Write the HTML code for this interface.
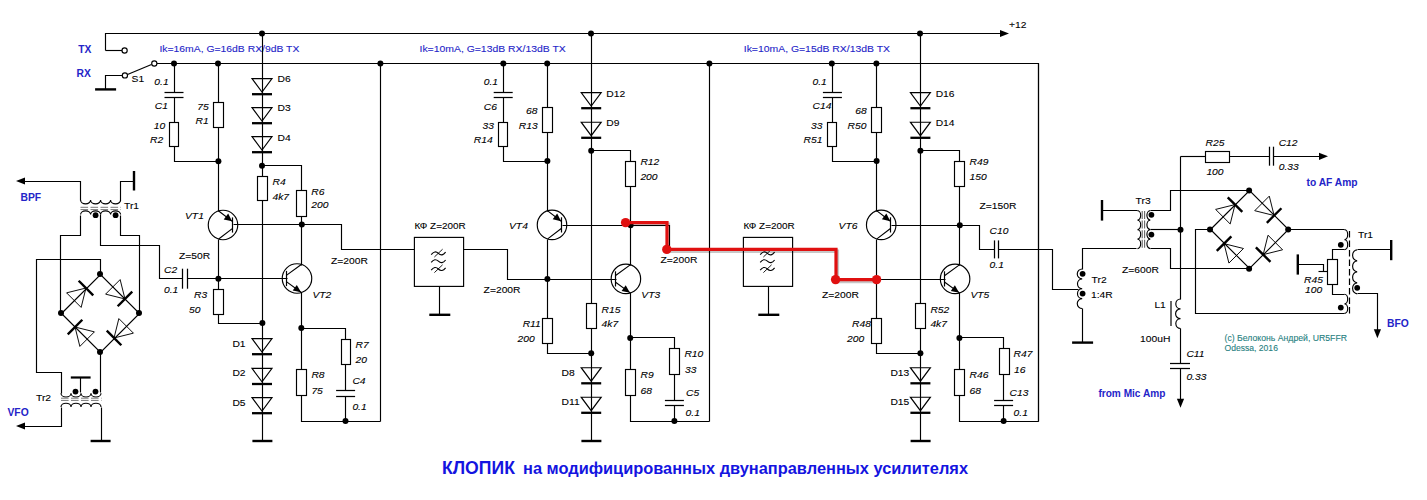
<!DOCTYPE html>
<html><head><meta charset="utf-8"><style>
html,body{margin:0;padding:0;background:#fff;}
svg{display:block;}
text{font-family:"Liberation Sans",sans-serif;}
</style></head><body>
<svg width="1427" height="500" viewBox="0 0 1427 500">
<rect width="1427" height="500" fill="#fff"/>
<g stroke="#000" stroke-width="1.15" fill="none" font-family="Liberation Sans, sans-serif">
<path d="M105.50 50.50 L105.50 33.50 L1001.50 33.50"/>
<path d="M1009.00 33.50 L1000.00 36.90 L1000.00 30.10 Z" fill="#000" stroke="none"/>
<path d="M105.50 50.50 L122.50 50.50"/>
<circle cx="124.60" cy="50.50" r="2.6" fill="#fff"/>
<path d="M156.50 63.50 L1038.50 63.50 L1038.50 421.50"/>
<circle cx="154.30" cy="63.50" r="2.6" fill="#fff"/>
<path d="M127.50 74.50 L151.50 64.50"/>
<path d="M122.50 75.50 L105.50 75.50 L105.50 89.50"/>
<circle cx="124.90" cy="75.40" r="2.6" fill="#fff"/>
<path d="M95.10 89.40 L116.10 89.40" stroke-width="2.4"/>
<circle cx="262.00" cy="33.50" r="3.0" fill="#000" stroke="none"/>
<circle cx="591.00" cy="33.50" r="3.0" fill="#000" stroke="none"/>
<circle cx="920.00" cy="33.50" r="3.0" fill="#000" stroke="none"/>
<circle cx="174.00" cy="63.50" r="3.0" fill="#000" stroke="none"/>
<circle cx="218.00" cy="63.50" r="3.0" fill="#000" stroke="none"/>
<circle cx="380.40" cy="63.50" r="3.0" fill="#000" stroke="none"/>
<circle cx="503.30" cy="63.50" r="3.0" fill="#000" stroke="none"/>
<circle cx="547.20" cy="63.50" r="3.0" fill="#000" stroke="none"/>
<circle cx="709.40" cy="63.50" r="3.0" fill="#000" stroke="none"/>
<circle cx="831.80" cy="63.50" r="3.0" fill="#000" stroke="none"/>
<circle cx="876.40" cy="63.50" r="3.0" fill="#000" stroke="none"/>
<text stroke="#2424c8" stroke-width="0.1" x="159.40" y="52.21" font-size="9.5" fill="#2424c8" textLength="140" lengthAdjust="spacingAndGlyphs">Ik=16mA, G=16dB RX/9dB TX</text>
<text stroke="#2424c8" stroke-width="0.1" x="419.50" y="52.21" font-size="9.5" fill="#2424c8" textLength="146.3" lengthAdjust="spacingAndGlyphs">Ik=10mA, G=13dB RX/13dB TX</text>
<text stroke="#2424c8" stroke-width="0.1" x="743.75" y="52.21" font-size="9.5" fill="#2424c8" textLength="146.3" lengthAdjust="spacingAndGlyphs">Ik=10mA, G=15dB RX/13dB TX</text>
<text stroke="none" x="78.20" y="52.55" font-size="10.3" font-weight="bold" fill="#2424c8">TX</text>
<text stroke="none" x="76.50" y="77.45" font-size="10.3" font-weight="bold" fill="#2424c8">RX</text>
<text stroke="#000" stroke-width="0.1" x="131.60" y="81.66" font-size="9.5" fill="#000" textLength="12.6" lengthAdjust="spacingAndGlyphs">S1</text>
<text stroke="#000" stroke-width="0.1" x="1009.00" y="27.96" font-size="9.5" fill="#000" textLength="17.47" lengthAdjust="spacingAndGlyphs">+12</text>
<path d="M174.50 63.50 L174.50 92.50"/>
<path d="M174.50 97.50 L174.50 122.50"/>
<path d="M164.50 92.50 L183.50 92.50" stroke-width="1.25"/>
<path d="M164.50 97.50 L183.50 97.50" stroke-width="1.25"/>
<path d="M174.50 146.50 L174.50 161.50 L218.50 161.50"/>
<rect x="169.50" y="122.50" width="9" height="24" fill="#fff"/>
<path d="M218.50 63.50 L218.50 63.50 L218.50 211.50"/>
<rect x="213.50" y="102.50" width="10" height="25" fill="#fff"/>
<circle cx="218.40" cy="161.30" r="3.0" fill="#000" stroke="none"/>
<path d="M262.50 33.50 L262.50 441.50"/>
<path d="M252.00 78.60 L272.00 78.60 L262.00 92.10 Z"/>
<path d="M252.00 94.20 L272.00 94.20" stroke-width="2.3"/>
<path d="M252.00 107.60 L272.00 107.60 L262.00 121.10 Z"/>
<path d="M252.00 123.20 L272.00 123.20" stroke-width="2.3"/>
<path d="M252.00 136.60 L272.00 136.60 L262.00 150.10 Z"/>
<path d="M252.00 152.20 L272.00 152.20" stroke-width="2.3"/>
<circle cx="262.00" cy="165.80" r="3.0" fill="#000" stroke="none"/>
<path d="M262.50 165.50 L301.50 165.50 L301.50 265.50"/>
<rect x="257.50" y="176.50" width="10" height="24" fill="#fff"/>
<rect x="296.50" y="190.50" width="10" height="26" fill="#fff"/>
<circle cx="301.80" cy="224.60" r="3.0" fill="#000" stroke="none"/>
<path d="M252.00 338.60 L272.00 338.60 L262.00 352.10 Z"/>
<path d="M252.00 354.20 L272.00 354.20" stroke-width="2.3"/>
<path d="M252.00 368.40 L272.00 368.40 L262.00 381.90 Z"/>
<path d="M252.00 384.00 L272.00 384.00" stroke-width="2.3"/>
<path d="M252.00 397.60 L272.00 397.60 L262.00 411.10 Z"/>
<path d="M252.00 413.20 L272.00 413.20" stroke-width="2.3"/>
<path d="M252.40 441.00 L272.40 441.00" stroke-width="2.4"/>
<circle cx="223.00" cy="225.00" r="14.75" fill="none"/>
<path d="M232.50 217.40 L232.50 232.60" stroke-width="1.2"/>
<path d="M218.70 211.00 L232.60 221.60 M232.60 228.40 L218.70 239.00"/>
<path d="M232.12 221.24 L223.68 219.45 L228.16 213.56 Z" fill="#000" stroke="none"/>
<path d="M233.50 224.50 L341.50 224.50 L341.50 249.50 L414.50 249.50"/>
<path d="M218.50 239.50 L218.50 323.50 L262.50 323.50"/>
<rect x="213.50" y="289.50" width="10" height="25" fill="#fff"/>
<circle cx="218.40" cy="278.70" r="3.0" fill="#000" stroke="none"/>
<circle cx="262.40" cy="323.00" r="3.0" fill="#000" stroke="none"/>
<path d="M100.50 214.50 L100.50 245.50 L159.50 245.50 L159.50 278.50 L182.50 278.50"/>
<path d="M182.50 268.70 L182.50 288.70" stroke-width="1.25"/>
<path d="M187.50 268.70 L187.50 288.70" stroke-width="1.25"/>
<path d="M187.50 278.50 L287.50 278.50"/>
<circle cx="297.00" cy="278.50" r="14.75" fill="none"/>
<path d="M286.50 270.90 L286.50 286.10" stroke-width="1.2"/>
<path d="M301.30 264.50 L286.70 275.10 M286.70 281.90 L301.30 292.50"/>
<path d="M301.06 292.32 L292.69 290.57 L296.80 284.91 Z" fill="#000" stroke="none"/>
<circle cx="301.30" cy="328.00" r="3.0" fill="#000" stroke="none"/>
<path d="M301.50 292.50 L301.50 421.50 L380.50 421.50"/>
<path d="M380.50 63.50 L380.50 421.50"/>
<path d="M301.50 328.50 L345.50 328.50 L345.50 390.50"/>
<rect x="341.50" y="339.50" width="9" height="25" fill="#fff"/>
<rect x="296.50" y="369.50" width="10" height="26" fill="#fff"/>
<path d="M336.10 390.50 L355.10 390.50" stroke-width="1.25"/>
<path d="M336.10 396.50 L355.10 396.50" stroke-width="1.25"/>
<path d="M345.50 396.50 L345.50 421.50"/>
<circle cx="345.50" cy="421.00" r="3.0" fill="#000" stroke="none"/>
<text stroke="#000" stroke-width="0.1" x="154.30" y="85.06" font-size="9.5" font-style="italic" fill="#000" textLength="14.32" lengthAdjust="spacingAndGlyphs">0.1</text>
<text stroke="#000" stroke-width="0.1" x="154.80" y="109.46" font-size="9.5" font-style="italic" fill="#000" textLength="13.17" lengthAdjust="spacingAndGlyphs">C1</text>
<text stroke="#000" stroke-width="0.1" x="153.70" y="129.06" font-size="9.5" font-style="italic" fill="#000" textLength="11.46" lengthAdjust="spacingAndGlyphs">10</text>
<text stroke="#000" stroke-width="0.1" x="150.00" y="143.46" font-size="9.5" font-style="italic" fill="#000" textLength="13.17" lengthAdjust="spacingAndGlyphs">R2</text>
<text stroke="#000" stroke-width="0.1" x="197.20" y="109.86" font-size="9.5" font-style="italic" fill="#000" textLength="11.46" lengthAdjust="spacingAndGlyphs">75</text>
<text stroke="#000" stroke-width="0.1" x="195.60" y="124.26" font-size="9.5" font-style="italic" fill="#000" textLength="13.17" lengthAdjust="spacingAndGlyphs">R1</text>
<text stroke="#000" stroke-width="0.1" x="277.50" y="82.21" font-size="9.5" fill="#000" textLength="13.17" lengthAdjust="spacingAndGlyphs">D6</text>
<text stroke="#000" stroke-width="0.1" x="277.50" y="111.46" font-size="9.5" fill="#000" textLength="13.17" lengthAdjust="spacingAndGlyphs">D3</text>
<text stroke="#000" stroke-width="0.1" x="277.50" y="140.96" font-size="9.5" fill="#000" textLength="13.17" lengthAdjust="spacingAndGlyphs">D4</text>
<text stroke="#000" stroke-width="0.1" x="272.50" y="185.21" font-size="9.5" font-style="italic" fill="#000" textLength="13.17" lengthAdjust="spacingAndGlyphs">R4</text>
<text stroke="#000" stroke-width="0.1" x="272.50" y="199.71" font-size="9.5" font-style="italic" fill="#000" textLength="16.61" lengthAdjust="spacingAndGlyphs">4k7</text>
<text stroke="#000" stroke-width="0.1" x="311.25" y="194.71" font-size="9.5" font-style="italic" fill="#000" textLength="13.17" lengthAdjust="spacingAndGlyphs">R6</text>
<text stroke="#000" stroke-width="0.1" x="311.25" y="208.46" font-size="9.5" font-style="italic" fill="#000" textLength="17.18" lengthAdjust="spacingAndGlyphs">200</text>
<text stroke="#000" stroke-width="0.1" x="185.00" y="218.96" font-size="9.5" font-style="italic" fill="#000" textLength="18.89" lengthAdjust="spacingAndGlyphs">VT1</text>
<text stroke="#000" stroke-width="0.1" x="179.00" y="259.46" font-size="9.5" fill="#000" textLength="31.2" lengthAdjust="spacingAndGlyphs">Z=50R</text>
<text stroke="#000" stroke-width="0.1" x="164.00" y="273.46" font-size="9.5" font-style="italic" fill="#000" textLength="13.17" lengthAdjust="spacingAndGlyphs">C2</text>
<text stroke="#000" stroke-width="0.1" x="164.00" y="293.46" font-size="9.5" font-style="italic" fill="#000" textLength="14.32" lengthAdjust="spacingAndGlyphs">0.1</text>
<text stroke="#000" stroke-width="0.1" x="194.00" y="297.96" font-size="9.5" font-style="italic" fill="#000" textLength="13.17" lengthAdjust="spacingAndGlyphs">R3</text>
<text stroke="#000" stroke-width="0.1" x="189.00" y="313.46" font-size="9.5" font-style="italic" fill="#000" textLength="11.46" lengthAdjust="spacingAndGlyphs">50</text>
<text stroke="#000" stroke-width="0.1" x="312.40" y="298.46" font-size="9.5" font-style="italic" fill="#000" textLength="18.89" lengthAdjust="spacingAndGlyphs">VT2</text>
<text stroke="#000" stroke-width="0.1" x="331.00" y="264.06" font-size="9.5" fill="#000" textLength="36.93" lengthAdjust="spacingAndGlyphs">Z=200R</text>
<text stroke="#000" stroke-width="0.1" x="232.40" y="347.46" font-size="9.5" fill="#000" textLength="13.17" lengthAdjust="spacingAndGlyphs">D1</text>
<text stroke="#000" stroke-width="0.1" x="232.40" y="376.46" font-size="9.5" fill="#000" textLength="13.17" lengthAdjust="spacingAndGlyphs">D2</text>
<text stroke="#000" stroke-width="0.1" x="232.40" y="405.86" font-size="9.5" fill="#000" textLength="13.17" lengthAdjust="spacingAndGlyphs">D5</text>
<text stroke="#000" stroke-width="0.1" x="355.60" y="348.46" font-size="9.5" font-style="italic" fill="#000" textLength="13.17" lengthAdjust="spacingAndGlyphs">R7</text>
<text stroke="#000" stroke-width="0.1" x="355.60" y="363.46" font-size="9.5" font-style="italic" fill="#000" textLength="11.46" lengthAdjust="spacingAndGlyphs">20</text>
<text stroke="#000" stroke-width="0.1" x="311.40" y="378.46" font-size="9.5" font-style="italic" fill="#000" textLength="13.17" lengthAdjust="spacingAndGlyphs">R8</text>
<text stroke="#000" stroke-width="0.1" x="311.40" y="394.46" font-size="9.5" font-style="italic" fill="#000" textLength="11.46" lengthAdjust="spacingAndGlyphs">75</text>
<text stroke="#000" stroke-width="0.1" x="352.40" y="384.46" font-size="9.5" font-style="italic" fill="#000" textLength="13.17" lengthAdjust="spacingAndGlyphs">C4</text>
<text stroke="#000" stroke-width="0.1" x="352.40" y="410.46" font-size="9.5" font-style="italic" fill="#000" textLength="14.32" lengthAdjust="spacingAndGlyphs">0.1</text>
<path d="M16.00 181.00 L25.00 177.40 L25.00 184.60 Z" fill="#000" stroke="none"/>
<path d="M24.50 181.50 L80.50 181.50 L80.50 200.50"/>
<path d="M80.60 200.00 A5.00 3.80 0 0 0 90.60 200.00 A5.00 3.80 0 0 0 100.60 200.00 A5.00 3.80 0 0 0 110.60 200.00 A5.00 3.80 0 0 0 120.60 200.00" fill="none"/>
<path d="M120.50 200.50 L120.50 181.50 L134.50 181.50"/>
<path d="M134.00 171.00 L134.00 190.50" stroke-width="2.4"/>
<path d="M80.5 207.3 L121 207.3 M80.5 209.6 L121 209.6" stroke="#777" stroke-width="1.0" stroke-dasharray="7.6 2.4"/>
<path d="M80.60 214.60 A5.00 3.80 0 0 1 90.60 214.60 A5.00 3.80 0 0 1 100.60 214.60 A5.00 3.80 0 0 1 110.60 214.60 A5.00 3.80 0 0 1 120.60 214.60" fill="none"/>
<circle cx="95.60" cy="215.20" r="2.9" fill="#000" stroke="none"/>
<circle cx="115.60" cy="215.20" r="2.9" fill="#000" stroke="none"/>
<path d="M80.50 215.50 L80.50 235.50 L60.50 235.50 L60.50 312.50"/>
<path d="M120.50 215.50 L120.50 235.50 L139.50 235.50 L139.50 312.50"/>
<path d="M61.50 313.50 L100.50 274.50 L139.50 313.50 L100.50 352.50 L61.50 313.50"/>
<path d="M81.15 307.41 L66.59 292.85 L85.96 288.04 Z" stroke-width="0.95"/>
<path d="M93.24 295.32 L78.68 280.76" stroke-width="2.4"/>
<path d="M105.59 294.15 L120.15 279.59 L124.96 298.96 Z" stroke-width="0.95"/>
<path d="M117.68 306.24 L132.24 291.68" stroke-width="2.4"/>
<path d="M118.85 318.59 L133.41 333.15 L114.04 337.96 Z" stroke-width="0.95"/>
<path d="M106.76 330.68 L121.32 345.24" stroke-width="2.4"/>
<path d="M94.41 331.85 L79.85 346.41 L75.04 327.04 Z" stroke-width="0.95"/>
<path d="M82.32 319.76 L67.76 334.32" stroke-width="2.4"/>
<circle cx="100.00" cy="274.00" r="3.0" fill="#000" stroke="none"/>
<circle cx="61.00" cy="313.00" r="3.0" fill="#000" stroke="none"/>
<circle cx="139.00" cy="313.00" r="3.0" fill="#000" stroke="none"/>
<circle cx="100.00" cy="352.00" r="3.0" fill="#000" stroke="none"/>
<path d="M100.50 274.50 L100.50 259.50 L36.50 259.50 L36.50 372.50 L61.50 372.50 L61.50 393.50"/>
<path d="M100.50 352.50 L100.50 392.50"/>
<path d="M61.00 393.20 A5.00 3.80 0 0 0 71.00 393.20 A5.00 3.80 0 0 0 81.00 393.20 A5.00 3.80 0 0 0 91.00 393.20 A5.00 3.80 0 0 0 101.00 393.20" fill="none"/>
<circle cx="75.50" cy="391.60" r="2.9" fill="#000" stroke="none"/>
<circle cx="95.50" cy="391.60" r="2.9" fill="#000" stroke="none"/>
<path d="M80.50 392.50 L80.50 377.50"/>
<path d="M70.80 377.50 L90.60 377.50" stroke-width="2.2"/>
<path d="M61 398.2 L101.5 398.2 M61 400.4 L101.5 400.4" stroke="#777" stroke-width="1.0" stroke-dasharray="7.6 2.4"/>
<path d="M61.00 407.00 A5.00 3.80 0 0 1 71.00 407.00 A5.00 3.80 0 0 1 81.00 407.00 A5.00 3.80 0 0 1 91.00 407.00 A5.00 3.80 0 0 1 101.00 407.00" fill="none"/>
<path d="M61.50 407.50 L61.50 426.50 L24.50 426.50"/>
<path d="M16.00 426.00 L25.00 422.40 L25.00 429.60 Z" fill="#000" stroke="none"/>
<path d="M101.50 407.50 L101.50 441.50"/>
<path d="M90.60 441.00 L110.60 441.00" stroke-width="2.4"/>
<text stroke="#000" stroke-width="0.1" x="124.00" y="208.96" font-size="9.5" fill="#000" textLength="15.07" lengthAdjust="spacingAndGlyphs">Tr1</text>
<text stroke="#000" stroke-width="0.1" x="36.00" y="400.96" font-size="9.5" fill="#000" textLength="15.07" lengthAdjust="spacingAndGlyphs">Tr2</text>
<text stroke="none" x="20.50" y="200.50" font-size="10.3" font-weight="bold" fill="#2424c8">BPF</text>
<text stroke="none" x="7.50" y="416.25" font-size="10.3" font-weight="bold" fill="#2424c8">VFO</text>
<rect x="414.40" y="237.4" width="49.2" height="49" fill="#fff"/>
<path d="M439.50 286.50 L439.50 314.50"/>
<path d="M429.30 314.80 L450.30 314.80" stroke-width="2.4"/>
<path d="M431.20 254.60 Q434.80 249.90 438.40 253.40 T445.60 252.20" fill="none"/>
<path d="M434.40 257.00 L442.60 249.20" stroke-width="0.9"/>
<path d="M431.20 262.40 Q434.80 257.70 438.40 261.20 T445.60 260.00" fill="none"/>
<path d="M431.20 270.20 Q434.80 265.50 438.40 269.00 T445.60 267.80" fill="none"/>
<path d="M434.40 272.60 L442.60 264.80" stroke-width="0.9"/>
<text stroke="#000" stroke-width="0.1" x="414.40" y="229.06" font-size="9.5" fill="#000" textLength="51.2" lengthAdjust="spacingAndGlyphs">КФ Z=200R</text>
<rect x="743.40" y="237.4" width="49.2" height="49" fill="#fff"/>
<path d="M768.50 286.50 L768.50 314.50"/>
<path d="M758.30 314.80 L779.30 314.80" stroke-width="2.4"/>
<path d="M760.20 254.60 Q763.80 249.90 767.40 253.40 T774.60 252.20" fill="none"/>
<path d="M763.40 257.00 L771.60 249.20" stroke-width="0.9"/>
<path d="M760.20 262.40 Q763.80 257.70 767.40 261.20 T774.60 260.00" fill="none"/>
<path d="M760.20 270.20 Q763.80 265.50 767.40 269.00 T774.60 267.80" fill="none"/>
<path d="M763.40 272.60 L771.60 264.80" stroke-width="0.9"/>
<text stroke="#000" stroke-width="0.1" x="743.40" y="229.06" font-size="9.5" fill="#000" textLength="51.2" lengthAdjust="spacingAndGlyphs">КФ Z=200R</text>
<path d="M463.50 249.50 L507.50 249.50 L507.50 279.50 L616.50 279.50"/>
<text stroke="#000" stroke-width="0.1" x="483.60" y="293.46" font-size="9.5" fill="#000" textLength="36.93" lengthAdjust="spacingAndGlyphs">Z=200R</text>
<path d="M503.50 63.50 L503.50 92.50"/>
<path d="M503.50 97.50 L503.50 122.50"/>
<path d="M493.70 92.50 L512.70 92.50" stroke-width="1.25"/>
<path d="M493.70 97.50 L512.70 97.50" stroke-width="1.25"/>
<rect x="498.50" y="122.50" width="9" height="24" fill="#fff"/>
<path d="M503.50 146.50 L503.50 161.50 L547.50 161.50"/>
<path d="M547.50 63.50 L547.50 211.50"/>
<rect x="542.50" y="107.50" width="10" height="25" fill="#fff"/>
<circle cx="547.40" cy="161.00" r="3.0" fill="#000" stroke="none"/>
<path d="M591.50 33.50 L591.50 441.50"/>
<path d="M581.20 92.60 L601.20 92.60 L591.20 106.10 Z"/>
<path d="M581.20 108.20 L601.20 108.20" stroke-width="2.3"/>
<path d="M581.20 122.20 L601.20 122.20 L591.20 135.70 Z"/>
<path d="M581.20 137.80 L601.20 137.80" stroke-width="2.3"/>
<circle cx="591.20" cy="150.70" r="3.0" fill="#000" stroke="none"/>
<path d="M591.50 150.50 L630.50 150.50 L630.50 265.50"/>
<rect x="625.50" y="161.50" width="10" height="25" fill="#fff"/>
<circle cx="630.60" cy="225.20" r="3.0" fill="#000" stroke="none"/>
<circle cx="552.00" cy="224.90" r="14.75" fill="none"/>
<path d="M561.50 217.30 L561.50 232.50" stroke-width="1.2"/>
<path d="M547.70 210.90 L561.60 221.50 M561.60 228.30 L547.70 238.90"/>
<path d="M561.12 221.14 L552.68 219.35 L557.16 213.46 Z" fill="#000" stroke="none"/>
<path d="M562.50 225.50 L630.50 225.50"/>
<path d="M547.50 239.50 L547.50 353.50 L591.50 353.50"/>
<rect x="542.50" y="318.50" width="10" height="25" fill="#fff"/>
<circle cx="547.40" cy="279.00" r="3.0" fill="#000" stroke="none"/>
<circle cx="591.20" cy="353.20" r="3.0" fill="#000" stroke="none"/>
<rect x="586.50" y="303.50" width="10" height="25" fill="#fff"/>
<circle cx="625.90" cy="278.90" r="14.75" fill="none"/>
<path d="M615.50 271.30 L615.50 286.50" stroke-width="1.2"/>
<path d="M630.20 264.90 L615.60 275.50 M615.60 282.30 L630.20 292.90"/>
<path d="M629.96 292.72 L621.59 290.97 L625.70 285.31 Z" fill="#000" stroke="none"/>
<path d="M630.50 292.50 L630.50 421.50 L709.50 421.50"/>
<path d="M709.50 63.50 L709.50 421.50"/>
<circle cx="630.20" cy="337.90" r="3.0" fill="#000" stroke="none"/>
<path d="M630.50 337.50 L674.50 337.50 L674.50 400.50"/>
<rect x="669.50" y="348.50" width="10" height="26" fill="#fff"/>
<rect x="625.50" y="369.50" width="10" height="26" fill="#fff"/>
<path d="M664.90 400.50 L683.90 400.50" stroke-width="1.25"/>
<path d="M664.90 405.50 L683.90 405.50" stroke-width="1.25"/>
<path d="M674.50 405.50 L674.50 421.50"/>
<circle cx="674.40" cy="421.00" r="3.0" fill="#000" stroke="none"/>
<path d="M581.20 367.70 L601.20 367.70 L591.20 381.20 Z"/>
<path d="M581.20 383.30 L601.20 383.30" stroke-width="2.3"/>
<path d="M581.20 397.20 L601.20 397.20 L591.20 410.70 Z"/>
<path d="M581.20 412.80 L601.20 412.80" stroke-width="2.3"/>
<path d="M581.40 441.00 L601.40 441.00" stroke-width="2.4"/>
<text stroke="#000" stroke-width="0.1" x="483.75" y="84.71" font-size="9.5" font-style="italic" fill="#000" textLength="14.32" lengthAdjust="spacingAndGlyphs">0.1</text>
<text stroke="#000" stroke-width="0.1" x="483.75" y="109.71" font-size="9.5" font-style="italic" fill="#000" textLength="13.17" lengthAdjust="spacingAndGlyphs">C6</text>
<text stroke="#000" stroke-width="0.1" x="482.50" y="129.46" font-size="9.5" font-style="italic" fill="#000" textLength="11.46" lengthAdjust="spacingAndGlyphs">33</text>
<text stroke="#000" stroke-width="0.1" x="473.75" y="142.96" font-size="9.5" font-style="italic" fill="#000" textLength="18.89" lengthAdjust="spacingAndGlyphs">R14</text>
<text stroke="#000" stroke-width="0.1" x="526.00" y="114.46" font-size="9.5" font-style="italic" fill="#000" textLength="11.46" lengthAdjust="spacingAndGlyphs">68</text>
<text stroke="#000" stroke-width="0.1" x="518.75" y="129.46" font-size="9.5" font-style="italic" fill="#000" textLength="18.89" lengthAdjust="spacingAndGlyphs">R13</text>
<text stroke="#000" stroke-width="0.1" x="606.30" y="97.21" font-size="9.5" fill="#000" textLength="18.89" lengthAdjust="spacingAndGlyphs">D12</text>
<text stroke="#000" stroke-width="0.1" x="606.30" y="125.96" font-size="9.5" fill="#000" textLength="13.17" lengthAdjust="spacingAndGlyphs">D9</text>
<text stroke="#000" stroke-width="0.1" x="640.40" y="165.06" font-size="9.5" font-style="italic" fill="#000" textLength="18.89" lengthAdjust="spacingAndGlyphs">R12</text>
<text stroke="#000" stroke-width="0.1" x="640.40" y="180.46" font-size="9.5" font-style="italic" fill="#000" textLength="17.18" lengthAdjust="spacingAndGlyphs">200</text>
<text stroke="#000" stroke-width="0.1" x="509.00" y="229.06" font-size="9.5" font-style="italic" fill="#000" textLength="18.89" lengthAdjust="spacingAndGlyphs">VT4</text>
<text stroke="#000" stroke-width="0.1" x="641.30" y="298.06" font-size="9.5" font-style="italic" fill="#000" textLength="18.89" lengthAdjust="spacingAndGlyphs">VT3</text>
<text stroke="#000" stroke-width="0.1" x="522.70" y="326.96" font-size="9.5" font-style="italic" fill="#000" textLength="18.13" lengthAdjust="spacingAndGlyphs">R11</text>
<text stroke="#000" stroke-width="0.1" x="517.60" y="342.06" font-size="9.5" font-style="italic" fill="#000" textLength="17.18" lengthAdjust="spacingAndGlyphs">200</text>
<text stroke="#000" stroke-width="0.1" x="601.60" y="313.06" font-size="9.5" font-style="italic" fill="#000" textLength="18.89" lengthAdjust="spacingAndGlyphs">R15</text>
<text stroke="#000" stroke-width="0.1" x="601.60" y="326.96" font-size="9.5" font-style="italic" fill="#000" textLength="16.61" lengthAdjust="spacingAndGlyphs">4k7</text>
<text stroke="#000" stroke-width="0.1" x="684.40" y="357.46" font-size="9.5" font-style="italic" fill="#000" textLength="18.89" lengthAdjust="spacingAndGlyphs">R10</text>
<text stroke="#000" stroke-width="0.1" x="685.00" y="373.06" font-size="9.5" font-style="italic" fill="#000" textLength="11.46" lengthAdjust="spacingAndGlyphs">33</text>
<text stroke="#000" stroke-width="0.1" x="640.60" y="378.46" font-size="9.5" font-style="italic" fill="#000" textLength="13.17" lengthAdjust="spacingAndGlyphs">R9</text>
<text stroke="#000" stroke-width="0.1" x="640.60" y="394.46" font-size="9.5" font-style="italic" fill="#000" textLength="11.46" lengthAdjust="spacingAndGlyphs">68</text>
<text stroke="#000" stroke-width="0.1" x="686.00" y="396.46" font-size="9.5" font-style="italic" fill="#000" textLength="13.17" lengthAdjust="spacingAndGlyphs">C5</text>
<text stroke="#000" stroke-width="0.1" x="685.60" y="416.46" font-size="9.5" font-style="italic" fill="#000" textLength="14.32" lengthAdjust="spacingAndGlyphs">0.1</text>
<text stroke="#000" stroke-width="0.1" x="561.60" y="376.46" font-size="9.5" fill="#000" textLength="13.17" lengthAdjust="spacingAndGlyphs">D8</text>
<text stroke="#000" stroke-width="0.1" x="561.60" y="405.46" font-size="9.5" fill="#000" textLength="18.13" lengthAdjust="spacingAndGlyphs">D11</text>
<path d="M832.50 63.50 L832.50 92.50"/>
<path d="M832.50 97.50 L832.50 122.50"/>
<path d="M822.90 92.50 L841.90 92.50" stroke-width="1.25"/>
<path d="M822.90 97.50 L841.90 97.50" stroke-width="1.25"/>
<rect x="827.50" y="122.50" width="9" height="24" fill="#fff"/>
<path d="M832.50 146.50 L832.50 161.50 L876.50 161.50"/>
<path d="M876.50 63.50 L876.50 211.50"/>
<rect x="871.50" y="107.50" width="10" height="25" fill="#fff"/>
<circle cx="876.60" cy="161.00" r="3.0" fill="#000" stroke="none"/>
<path d="M920.50 33.50 L920.50 441.50"/>
<path d="M910.40 92.60 L930.40 92.60 L920.40 106.10 Z"/>
<path d="M910.40 108.20 L930.40 108.20" stroke-width="2.3"/>
<path d="M910.40 122.20 L930.40 122.20 L920.40 135.70 Z"/>
<path d="M910.40 137.80 L930.40 137.80" stroke-width="2.3"/>
<circle cx="920.40" cy="150.70" r="3.0" fill="#000" stroke="none"/>
<path d="M920.50 150.50 L959.50 150.50 L959.50 265.50"/>
<rect x="954.50" y="161.50" width="10" height="25" fill="#fff"/>
<circle cx="959.80" cy="225.20" r="3.0" fill="#000" stroke="none"/>
<circle cx="881.20" cy="224.90" r="14.75" fill="none"/>
<path d="M890.50 217.30 L890.50 232.50" stroke-width="1.2"/>
<path d="M876.90 210.90 L890.80 221.50 M890.80 228.30 L876.90 238.90"/>
<path d="M890.32 221.14 L881.88 219.35 L886.36 213.46 Z" fill="#000" stroke="none"/>
<path d="M891.50 225.50 L959.50 225.50"/>
<path d="M876.50 239.50 L876.50 353.50 L920.50 353.50"/>
<rect x="871.50" y="318.50" width="10" height="25" fill="#fff"/>
<circle cx="876.60" cy="279.00" r="3.0" fill="#000" stroke="none"/>
<circle cx="920.40" cy="353.20" r="3.0" fill="#000" stroke="none"/>
<rect x="915.50" y="303.50" width="10" height="25" fill="#fff"/>
<circle cx="955.10" cy="278.90" r="14.75" fill="none"/>
<path d="M944.50 271.30 L944.50 286.50" stroke-width="1.2"/>
<path d="M959.40 264.90 L944.80 275.50 M944.80 282.30 L959.40 292.90"/>
<path d="M959.16 292.72 L950.79 290.97 L954.90 285.31 Z" fill="#000" stroke="none"/>
<path d="M959.50 292.50 L959.50 421.50 L1038.50 421.50"/>
<path d="M1038.50 63.50 L1038.50 421.50"/>
<circle cx="959.40" cy="337.90" r="3.0" fill="#000" stroke="none"/>
<path d="M959.50 337.50 L1003.50 337.50 L1003.50 400.50"/>
<rect x="999.50" y="348.50" width="10" height="26" fill="#fff"/>
<rect x="954.50" y="369.50" width="10" height="26" fill="#fff"/>
<path d="M994.10 400.50 L1013.10 400.50" stroke-width="1.25"/>
<path d="M994.10 405.50 L1013.10 405.50" stroke-width="1.25"/>
<path d="M1003.50 405.50 L1003.50 421.50"/>
<circle cx="1003.60" cy="421.00" r="3.0" fill="#000" stroke="none"/>
<path d="M910.40 367.70 L930.40 367.70 L920.40 381.20 Z"/>
<path d="M910.40 383.30 L930.40 383.30" stroke-width="2.3"/>
<path d="M910.40 397.20 L930.40 397.20 L920.40 410.70 Z"/>
<path d="M910.40 412.80 L930.40 412.80" stroke-width="2.3"/>
<path d="M910.60 441.00 L930.60 441.00" stroke-width="2.4"/>
<text stroke="#000" stroke-width="0.1" x="812.50" y="85.21" font-size="9.5" font-style="italic" fill="#000" textLength="14.32" lengthAdjust="spacingAndGlyphs">0.1</text>
<text stroke="#000" stroke-width="0.1" x="812.50" y="109.21" font-size="9.5" font-style="italic" fill="#000" textLength="18.89" lengthAdjust="spacingAndGlyphs">C14</text>
<text stroke="#000" stroke-width="0.1" x="811.00" y="129.46" font-size="9.5" font-style="italic" fill="#000" textLength="11.46" lengthAdjust="spacingAndGlyphs">33</text>
<text stroke="#000" stroke-width="0.1" x="803.60" y="143.46" font-size="9.5" font-style="italic" fill="#000" textLength="18.89" lengthAdjust="spacingAndGlyphs">R51</text>
<text stroke="#000" stroke-width="0.1" x="855.20" y="114.46" font-size="9.5" font-style="italic" fill="#000" textLength="11.46" lengthAdjust="spacingAndGlyphs">68</text>
<text stroke="#000" stroke-width="0.1" x="847.60" y="129.46" font-size="9.5" font-style="italic" fill="#000" textLength="18.89" lengthAdjust="spacingAndGlyphs">R50</text>
<text stroke="#000" stroke-width="0.1" x="935.70" y="97.21" font-size="9.5" fill="#000" textLength="18.89" lengthAdjust="spacingAndGlyphs">D16</text>
<text stroke="#000" stroke-width="0.1" x="935.70" y="125.96" font-size="9.5" fill="#000" textLength="18.89" lengthAdjust="spacingAndGlyphs">D14</text>
<text stroke="#000" stroke-width="0.1" x="969.60" y="165.06" font-size="9.5" font-style="italic" fill="#000" textLength="18.89" lengthAdjust="spacingAndGlyphs">R49</text>
<text stroke="#000" stroke-width="0.1" x="969.60" y="180.46" font-size="9.5" font-style="italic" fill="#000" textLength="17.18" lengthAdjust="spacingAndGlyphs">150</text>
<text stroke="#000" stroke-width="0.1" x="838.60" y="229.06" font-size="9.5" font-style="italic" fill="#000" textLength="18.89" lengthAdjust="spacingAndGlyphs">VT6</text>
<text stroke="#000" stroke-width="0.1" x="970.40" y="297.86" font-size="9.5" font-style="italic" fill="#000" textLength="18.89" lengthAdjust="spacingAndGlyphs">VT5</text>
<text stroke="#000" stroke-width="0.1" x="852.00" y="326.86" font-size="9.5" font-style="italic" fill="#000" textLength="18.89" lengthAdjust="spacingAndGlyphs">R48</text>
<text stroke="#000" stroke-width="0.1" x="847.00" y="341.86" font-size="9.5" font-style="italic" fill="#000" textLength="17.18" lengthAdjust="spacingAndGlyphs">200</text>
<text stroke="#000" stroke-width="0.1" x="930.40" y="313.06" font-size="9.5" font-style="italic" fill="#000" textLength="18.89" lengthAdjust="spacingAndGlyphs">R52</text>
<text stroke="#000" stroke-width="0.1" x="930.40" y="327.06" font-size="9.5" font-style="italic" fill="#000" textLength="16.61" lengthAdjust="spacingAndGlyphs">4k7</text>
<text stroke="#000" stroke-width="0.1" x="1013.60" y="357.46" font-size="9.5" font-style="italic" fill="#000" textLength="18.89" lengthAdjust="spacingAndGlyphs">R47</text>
<text stroke="#000" stroke-width="0.1" x="1014.00" y="372.86" font-size="9.5" font-style="italic" fill="#000" textLength="11.46" lengthAdjust="spacingAndGlyphs">16</text>
<text stroke="#000" stroke-width="0.1" x="969.60" y="378.46" font-size="9.5" font-style="italic" fill="#000" textLength="18.89" lengthAdjust="spacingAndGlyphs">R46</text>
<text stroke="#000" stroke-width="0.1" x="969.60" y="394.46" font-size="9.5" font-style="italic" fill="#000" textLength="11.46" lengthAdjust="spacingAndGlyphs">68</text>
<text stroke="#000" stroke-width="0.1" x="1009.60" y="396.46" font-size="9.5" font-style="italic" fill="#000" textLength="18.89" lengthAdjust="spacingAndGlyphs">C13</text>
<text stroke="#000" stroke-width="0.1" x="1013.60" y="416.46" font-size="9.5" font-style="italic" fill="#000" textLength="14.32" lengthAdjust="spacingAndGlyphs">0.1</text>
<text stroke="#000" stroke-width="0.1" x="890.40" y="375.86" font-size="9.5" fill="#000" textLength="18.89" lengthAdjust="spacingAndGlyphs">D13</text>
<text stroke="#000" stroke-width="0.1" x="890.40" y="405.46" font-size="9.5" fill="#000" textLength="18.89" lengthAdjust="spacingAndGlyphs">D15</text>
<path d="M630.50 225.50 L669.50 225.50 L669.50 249.50 L743.50 249.50"/>
<path d="M792.50 249.50 L836.50 249.50 L836.50 279.50 L945.50 279.50"/>
<text stroke="#000" stroke-width="0.1" x="660.40" y="263.46" font-size="9.5" fill="#000" textLength="36.93" lengthAdjust="spacingAndGlyphs">Z=200R</text>
<text stroke="#000" stroke-width="0.1" x="822.00" y="298.46" font-size="9.5" fill="#000" textLength="36.93" lengthAdjust="spacingAndGlyphs">Z=200R</text>
<path d="M959.50 225.50 L979.50 225.50 L979.50 249.50 L994.50 249.50"/>
<path d="M994.50 240.40 L994.50 258.40" stroke-width="1.25"/>
<path d="M998.50 240.40 L998.50 258.40" stroke-width="1.25"/>
<path d="M998.50 249.50 L1052.50 249.50 L1052.50 289.50 L1078.50 289.50"/>
<text stroke="#000" stroke-width="0.1" x="979.40" y="209.06" font-size="9.5" fill="#000" textLength="36.93" lengthAdjust="spacingAndGlyphs">Z=150R</text>
<text stroke="#000" stroke-width="0.1" x="989.60" y="234.46" font-size="9.5" font-style="italic" fill="#000" textLength="18.89" lengthAdjust="spacingAndGlyphs">C10</text>
<text stroke="#000" stroke-width="0.1" x="989.60" y="268.46" font-size="9.5" font-style="italic" fill="#000" textLength="14.32" lengthAdjust="spacingAndGlyphs">0.1</text>
<g stroke="#000" stroke-opacity="0.22" stroke-width="3.6" fill="none" transform="translate(1.3,1.8)"><path d="M625.6 222.6 L667 222.6 L667 249.4 L836 249.4 L836 279.6 L876.6 279.6"/></g>
<path d="M625.6 222.6 L667 222.6 L667 249.4 L836 249.4 L836 279.6 L876.6 279.6" stroke="#e01010" stroke-width="3.2" fill="none" stroke-linejoin="miter"/>
<circle cx="625.60" cy="222.60" r="4.7" fill="#e01010" stroke="none"/>
<circle cx="666.80" cy="249.40" r="4.7" fill="#e01010" stroke="none"/>
<circle cx="835.60" cy="279.60" r="4.7" fill="#e01010" stroke="none"/>
<circle cx="876.60" cy="279.60" r="4.7" fill="#e01010" stroke="none"/>
<path d="M1136.50 248.50 L1082.50 248.50 L1082.50 269.50"/>
<path d="M1082.20 269.00 A4.94 4.94 0 0 0 1082.20 278.88 A4.94 4.94 0 0 0 1082.20 288.75 A4.94 4.94 0 0 0 1082.20 298.62 A4.94 4.94 0 0 0 1082.20 308.50" fill="none"/>
<circle cx="1082.60" cy="273.80" r="2.9" fill="#000" stroke="none"/>
<circle cx="1082.60" cy="293.60" r="2.9" fill="#000" stroke="none"/>
<path d="M1082.50 308.50 L1082.50 342.50"/>
<path d="M1072.10 342.60 L1093.10 342.60" stroke-width="2.4"/>
<text stroke="#000" stroke-width="0.1" x="1091.60" y="283.16" font-size="9.5" fill="#000" textLength="15.07" lengthAdjust="spacingAndGlyphs">Tr2</text>
<text stroke="#000" stroke-width="0.1" x="1091.00" y="297.86" font-size="9.5" fill="#000" textLength="21.76" lengthAdjust="spacingAndGlyphs">1:4R</text>
<path d="M1102.50 210.50 L1137.50 210.50"/>
<path d="M1102.00 200.00 L1102.00 220.60" stroke-width="2.4"/>
<path d="M1137.50 210.60 A3.20 4.75 0 0 1 1137.50 220.10 A3.20 4.75 0 0 1 1137.50 229.60 A3.20 4.75 0 0 1 1137.50 239.10 A3.20 4.75 0 0 1 1137.50 248.60" fill="none"/>
<path d="M1142.2 211 L1142.2 249" stroke="#666" stroke-width="1.1" stroke-dasharray="8 1.6"/>
<path d="M1144.6 211 L1144.6 249" stroke="#666" stroke-width="1.1" stroke-dasharray="8 1.6"/>
<path d="M1150.30 210.60 A3.40 4.75 0 0 0 1150.30 220.10 A3.40 4.75 0 0 0 1150.30 229.60 A3.40 4.75 0 0 0 1150.30 239.10 A3.40 4.75 0 0 0 1150.30 248.60" fill="none"/>
<circle cx="1151.40" cy="214.80" r="2.9" fill="#000" stroke="none"/>
<circle cx="1151.40" cy="234.60" r="2.9" fill="#000" stroke="none"/>
<path d="M1150.50 210.50 L1170.50 210.50 L1170.50 190.50 L1249.50 190.50"/>
<path d="M1150.50 229.50 L1180.50 229.50"/>
<path d="M1150.50 248.50 L1170.50 248.50 L1170.50 268.50 L1249.50 268.50"/>
<circle cx="1180.50" cy="229.80" r="3.0" fill="#000" stroke="none"/>
<text stroke="#000" stroke-width="0.1" x="1135.60" y="204.46" font-size="9.5" fill="#000" textLength="15.07" lengthAdjust="spacingAndGlyphs">Tr3</text>
<text stroke="#000" stroke-width="0.1" x="1122.00" y="273.06" font-size="9.5" fill="#000" textLength="36.93" lengthAdjust="spacingAndGlyphs">Z=600R</text>
<path d="M1180.50 156.50 L1180.50 299.50"/>
<path d="M1180.50 299.00 A4.92 4.92 0 0 0 1180.50 308.83 A4.92 4.92 0 0 0 1180.50 318.67 A4.92 4.92 0 0 0 1180.50 328.50" fill="none"/>
<path d="M1171.00 301.00 L1171.00 326.00" stroke-width="1.2"/>
<path d="M1180.50 328.50 L1180.50 363.50"/>
<path d="M1170.00 363.50 L1190.00 363.50" stroke-width="1.25"/>
<path d="M1170.00 368.50 L1190.00 368.50" stroke-width="1.25"/>
<path d="M1180.50 368.50 L1180.50 399.50"/>
<path d="M1180.50 407.80 L1176.90 398.80 L1184.10 398.80 Z" fill="#000" stroke="none"/>
<text stroke="#000" stroke-width="0.1" x="1154.40" y="308.46" font-size="9.5" fill="#000" textLength="11.46" lengthAdjust="spacingAndGlyphs">L1</text>
<text stroke="#000" stroke-width="0.1" x="1140.00" y="342.06" font-size="9.5" fill="#000" textLength="30.35" lengthAdjust="spacingAndGlyphs">100uH</text>
<text stroke="#000" stroke-width="0.1" x="1186.40" y="356.86" font-size="9.5" font-style="italic" fill="#000" textLength="18.13" lengthAdjust="spacingAndGlyphs">C11</text>
<text stroke="#000" stroke-width="0.1" x="1186.40" y="380.46" font-size="9.5" font-style="italic" fill="#000" textLength="20.04" lengthAdjust="spacingAndGlyphs">0.33</text>
<text stroke="none" x="1098.40" y="396.75" font-size="10.3" font-weight="bold" fill="#2424c8" textLength="67" lengthAdjust="spacingAndGlyphs">from Mic Amp</text>
<path d="M1180.50 156.50 L1205.50 156.50"/>
<rect x="1205.50" y="151.50" width="24" height="11" fill="#fff"/>
<path d="M1229.50 156.50 L1269.50 156.50"/>
<path d="M1269.50 146.70 L1269.50 165.70" stroke-width="1.25"/>
<path d="M1273.50 146.70 L1273.50 165.70" stroke-width="1.25"/>
<path d="M1273.50 156.50 L1319.50 156.50"/>
<path d="M1328.00 156.30 L1319.00 159.90 L1319.00 152.70 Z" fill="#000" stroke="none"/>
<text stroke="#000" stroke-width="0.1" x="1205.60" y="146.46" font-size="9.5" font-style="italic" fill="#000" textLength="18.89" lengthAdjust="spacingAndGlyphs">R25</text>
<text stroke="#000" stroke-width="0.1" x="1206.40" y="175.06" font-size="9.5" font-style="italic" fill="#000" textLength="17.18" lengthAdjust="spacingAndGlyphs">100</text>
<text stroke="#000" stroke-width="0.1" x="1278.70" y="146.16" font-size="9.5" font-style="italic" fill="#000" textLength="18.89" lengthAdjust="spacingAndGlyphs">C12</text>
<text stroke="#000" stroke-width="0.1" x="1278.70" y="170.16" font-size="9.5" font-style="italic" fill="#000" textLength="20.04" lengthAdjust="spacingAndGlyphs">0.33</text>
<text stroke="none" x="1306.60" y="185.75" font-size="10.3" font-weight="bold" fill="#2424c8" textLength="51" lengthAdjust="spacingAndGlyphs">to AF Amp</text>
<path d="M1210.50 229.50 L1249.50 190.50 L1288.50 229.50 L1249.50 268.50 L1210.50 229.50"/>
<path d="M1230.19 223.98 L1215.62 209.41 L1235.02 204.58 Z" stroke-width="0.95"/>
<path d="M1242.31 211.86 L1227.74 197.29" stroke-width="2.4"/>
<path d="M1254.72 210.69 L1269.29 196.12 L1274.12 215.52 Z" stroke-width="0.95"/>
<path d="M1266.84 222.81 L1281.41 208.24" stroke-width="2.4"/>
<path d="M1268.01 235.22 L1282.58 249.79 L1263.18 254.62 Z" stroke-width="0.95"/>
<path d="M1255.89 247.34 L1270.46 261.91" stroke-width="2.4"/>
<path d="M1243.48 248.51 L1228.91 263.08 L1224.08 243.68 Z" stroke-width="0.95"/>
<path d="M1231.36 236.39 L1216.79 250.96" stroke-width="2.4"/>
<circle cx="1249.10" cy="190.50" r="3.0" fill="#000" stroke="none"/>
<circle cx="1210.00" cy="229.60" r="3.0" fill="#000" stroke="none"/>
<circle cx="1288.20" cy="229.60" r="3.0" fill="#000" stroke="none"/>
<circle cx="1249.10" cy="268.70" r="3.0" fill="#000" stroke="none"/>
<path d="M1210.50 229.50 L1195.50 229.50 L1195.50 313.50 L1344.50 313.50"/>
<path d="M1288.50 229.50 L1344.50 229.50"/>
<path d="M1344.50 229.60 A3.20 5.00 0 0 1 1344.50 239.60 A3.20 5.00 0 0 1 1344.50 249.60" fill="none"/>
<circle cx="1340.80" cy="244.80" r="2.9" fill="#000" stroke="none"/>
<path d="M1344.50 249.50 L1332.50 249.50 L1332.50 259.50"/>
<rect x="1327.50" y="259.50" width="10" height="25" fill="#fff"/>
<path d="M1332.50 284.50 L1332.50 294.50 L1344.50 294.50"/>
<path d="M1344.50 294.20 A3.20 4.80 0 0 1 1344.50 303.80 A3.20 4.80 0 0 1 1344.50 313.40" fill="none"/>
<circle cx="1340.80" cy="307.60" r="2.9" fill="#000" stroke="none"/>
<path d="M1357.20 249.80 A4.60 5.50 0 0 0 1357.20 260.80 A4.60 5.50 0 0 0 1357.20 271.80 A4.60 5.50 0 0 0 1357.20 282.80 A4.60 5.50 0 0 0 1357.20 293.80" fill="none"/>
<circle cx="1357.20" cy="287.80" r="2.9" fill="#000" stroke="none"/>
<path d="M1349.5 231 L1349.5 314" stroke="#000" stroke-width="1.2" stroke-dasharray="6.5 3"/>
<path d="M1357.50 249.50 L1391.50 249.50"/>
<path d="M1391.20 240.00 L1391.20 260.20" stroke-width="2.4"/>
<path d="M1357.50 293.50 L1377.50 293.50 L1377.50 330.50"/>
<path d="M1377.40 338.20 L1373.80 329.20 L1381.00 329.20 Z" fill="#000" stroke="none"/>
<path d="M1297.80 254.40 L1297.80 274.60" stroke-width="2.4"/>
<path d="M1297.50 264.50 L1323.50 264.50 L1323.50 271.50"/>
<path d="M1318.50 271.50 L1327.50 271.50"/>
<text stroke="#000" stroke-width="0.1" x="1358.00" y="238.46" font-size="9.5" fill="#000" textLength="15.07" lengthAdjust="spacingAndGlyphs">Tr1</text>
<text stroke="#000" stroke-width="0.1" x="1304.00" y="282.86" font-size="9.5" font-style="italic" fill="#000" textLength="18.89" lengthAdjust="spacingAndGlyphs">R45</text>
<text stroke="#000" stroke-width="0.1" x="1305.00" y="292.66" font-size="9.5" font-style="italic" fill="#000" textLength="17.18" lengthAdjust="spacingAndGlyphs">100</text>
<text stroke="none" x="1387.00" y="327.35" font-size="10.3" font-weight="bold" fill="#2424c8">BFO</text>
<text stroke="#1f8080" stroke-width="0.1" x="1224.50" y="341.10" font-size="8.7" fill="#1f8080" textLength="122.5" lengthAdjust="spacingAndGlyphs">(c) Белоконь Андрей, UR5FFR</text>
<text stroke="#1f8080" stroke-width="0.1" x="1224.50" y="350.60" font-size="8.7" fill="#1f8080" textLength="53.4" lengthAdjust="spacingAndGlyphs">Odessa, 2016</text>
<text stroke="none" x="442.00" y="473.90" font-size="17.6" font-weight="bold" fill="#1414e0" textLength="72.9" lengthAdjust="spacingAndGlyphs">КЛОПИК</text>
<text stroke="none" x="523.00" y="473.90" font-size="15.8" font-weight="bold" fill="#1414e0" textLength="445" lengthAdjust="spacingAndGlyphs">на модифицированных двунаправленных усилителях</text>
</g>
</svg>
</body></html>
